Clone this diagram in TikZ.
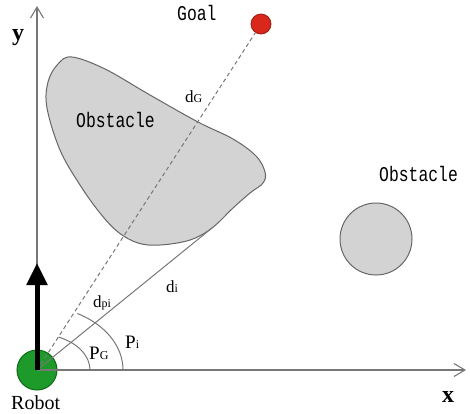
\documentclass[tikz,border=0pt]{standalone}
\usepackage{fontspec}
\setmainfont{Liberation Serif}
\newfontfamily\labmono[FakeStretch=0.78]{Liberation Mono}
\usetikzlibrary{arrows.meta}
\definecolor{axisgray}{HTML}{777777}
\definecolor{obsfill}{HTML}{D3D3D3}
\definecolor{obsline}{HTML}{666666}
\definecolor{robotgreen}{HTML}{1E9A2A}
\definecolor{robotedge}{HTML}{0E6A17}
\definecolor{goalred}{HTML}{D8281B}
\definecolor{goaledge}{HTML}{9E1A10}
\tikzset{
  axisline/.style={draw=axisgray, line width=1.1pt, -{Straight Barb[length=11pt,width=13pt,line width=1.1pt]}},
  obstacleshape/.style={fill=obsfill, draw=obsline, line width=1pt},
  goalline/.style={draw=axisgray, line width=1pt, dash pattern=on 4pt off 3pt},
  rayline/.style={draw=axisgray, line width=1pt},
  anglearc/.style={draw=axisgray, line width=1pt},
  monolabel/.style={inner sep=0pt, anchor=base west, font=\labmono\fontsize{21}{21}\selectfont},
  seriflabel/.style={inner sep=0pt, anchor=base west},
}
\newcommand{\bigd}{\fontsize{17}{17}\selectfont d}
\newcommand{\smallsub}[1]{{\fontsize{12}{12}\selectfont #1}}
\newcommand{\bigP}{\fontsize{19}{19}\selectfont P}
\begin{document}
\begin{tikzpicture}[x=1pt,y=-1pt]
\useasboundingbox (0,0) rectangle (470,413);
% big obstacle
\filldraw[obstacleshape] plot[smooth cycle, tension=0.6] coordinates {
  (72,57) (105,69) (150,95) (198,122) (233,139) (256,156) (265,172)
  (263,183) (250,193) (233,208) (212,228) (190,240) (160,245) (138,243)
  (118,232) (100,213) (80,185) (60,150) (47,108) (48,82) (58,64)};
% small round obstacle
\node[circle, obstacleshape, minimum size=72pt, inner sep=0pt] (obs2) at (376,239) {};
% robot
\node[circle, fill=robotgreen, draw=robotedge, line width=1pt, minimum size=40pt, inner sep=0pt] (robot) at (37,370) {};
% goal
\node[circle, fill=goalred, draw=goaledge, line width=0.8pt, minimum size=20pt, inner sep=0pt] (goal) at (261,24) {};
% coordinates
\coordinate (xend) at (466,370);
\coordinate (yend) at (37,6);
\coordinate (tan) at (212,228);
\coordinate (head) at (37,263);
% axes
\draw[axisline] (robot.center) -- (xend);
\draw[axisline] (robot.center) -- (yend);
% lines
\draw[goalline] (robot.center) -- (goal);
\draw[rayline] (robot.center) -- (tan);
% angle arcs
\draw[anglearc] (90,370) arc[start angle=0, end angle=66, x radius=53pt, y radius=36pt];
\draw[anglearc] (123,370) arc[start angle=0, end angle=62, x radius=86pt, y radius=64pt];
% heading arrow
\draw[line width=5pt, -{Triangle[length=22pt,width=20pt]}] (robot.center) -- (head);
% labels
\node[seriflabel, font=\bfseries\fontsize{24}{24}\selectfont] (ylab) at (12,40) {y};
\node[seriflabel, font=\bfseries\fontsize{24}{24}\selectfont] (xlab) at (442,402) {x};
\node[seriflabel, font=\fontsize{20}{20}\selectfont] (robotlab) at (11,409) {Robot};
\node[monolabel] (goallab) at (177,20) {Goal};
\node[monolabel] (obs1lab) at (76,127) {Obstacle};
\node[monolabel] (obs2lab) at (379,181) {Obstacle};
\node[seriflabel] (dG) at (185,102) {\bigd\smallsub{G}};
\node[seriflabel] (di) at (166,292) {\bigd\smallsub{i}};
\node[seriflabel] (dpi) at (93,307) {\bigd\smallsub{pi}};
\node[seriflabel] (PG) at (89,359) {\bigP\smallsub{G}};
\node[seriflabel] (Pi) at (125,348) {\bigP\smallsub{i}};
\end{tikzpicture}
\end{document}
